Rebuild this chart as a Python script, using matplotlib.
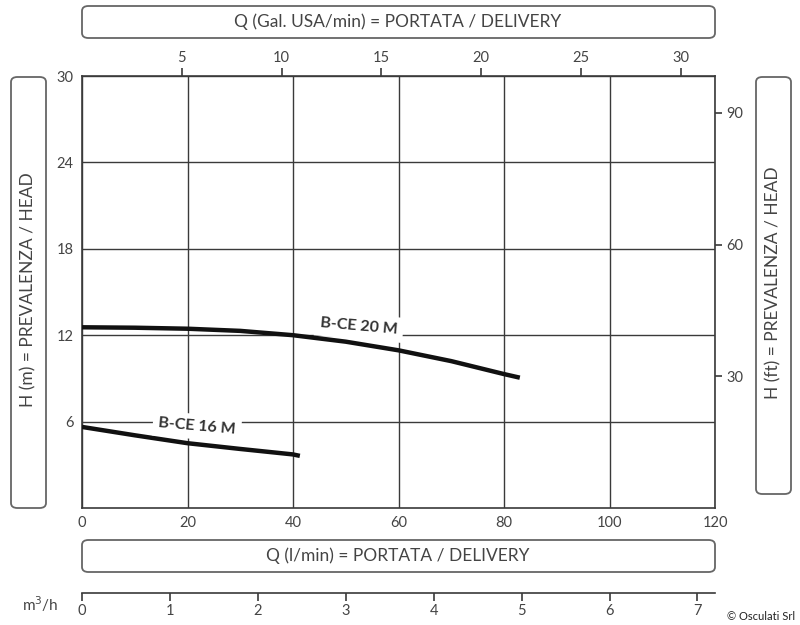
import matplotlib.pyplot as plt
from matplotlib.patches import FancyBboxPatch

plt.rcParams['font.family'] = ['Lato', 'DejaVu Sans']

# pump curves, Q in l/min, H in m
q_20m = [0, 10, 20, 30, 40, 50, 60, 70, 80, 83]
h_20m = [12.55, 12.52, 12.45, 12.3, 12.0, 11.55, 10.95, 10.2, 9.3, 9.05]
q_16m = [0, 10, 20, 30, 40, 41.3]
h_16m = [5.63, 5.05, 4.5, 4.1, 3.72, 3.62]

x_ticks = [0, 20, 40, 60, 80, 100, 120]
y_ticks = [6, 12, 18, 24, 30]
gal_ticks = [5, 10, 15, 20, 25, 30]
ft_ticks = [30, 60, 90]
m3h_ticks = [0, 1, 2, 3, 4, 5, 6, 7]

LPM_PER_GAL = 3.785
FT_PER_M = 3.2808
LPM_PER_M3H = 1000 / 60

W, H = 800, 625
fig = plt.figure(figsize=(8, 6.25), dpi=100)
ink = '#3a3a3a'
txt = '#444444'


def fx(px):
    return px / W


def fy(py):
    return 1 - py / H


ax = fig.add_axes([fx(82), fy(508), fx(715) - fx(82), fy(76) - fy(508)])
ax.set_xlim(0, 120)
ax.set_ylim(0, 30)
ax.set_xticks(x_ticks)
ax.set_yticks(y_ticks)
ax.grid(True, color=ink, lw=1.0)
ax.set_axisbelow(True)
for s in ax.spines.values():
    s.set_color(ink)
    s.set_linewidth(1.2)
ax.tick_params(axis='both', length=0, labelsize=10.5, colors=txt, pad=6)

ax.plot(q_20m, h_20m, color='#111111', lw=3.2, solid_capstyle='butt', zorder=3)
ax.plot(q_16m, h_16m, color='#111111', lw=3.2, solid_capstyle='butt', zorder=3)

lab_box = dict(boxstyle='square,pad=0.35', fc='white', ec='none')
ax.text(52.5, 12.6, 'B-CE 20 M', rotation=-5, ha='center', va='center',
        fontsize=11.5, fontweight='bold', color='#333333', bbox=lab_box, zorder=4)
ax.text(21.8, 5.65, 'B-CE 16 M', rotation=-5, ha='center', va='center',
        fontsize=11.5, fontweight='bold', color='#333333', bbox=lab_box, zorder=4)

top = ax.secondary_xaxis('top', functions=(lambda q: q / LPM_PER_GAL,
                                            lambda g: g * LPM_PER_GAL))
top.set_xticks(gal_ticks)
top.tick_params(direction='out', length=6, width=1.2, colors=ink,
                labelcolor=txt, labelsize=10.5, pad=2)
top.spines['top'].set_visible(False)

right = ax.secondary_yaxis('right', functions=(lambda m: m * FT_PER_M,
                                               lambda f: f / FT_PER_M))
right.set_yticks(ft_ticks)
right.tick_params(direction='out', length=5, width=1.2, colors=ink,
                  labelcolor=txt, labelsize=10.5, pad=3)
right.spines['right'].set_visible(False)

# m3/h scale under the chart
ax3 = fig.add_axes([fx(82), fy(593), fx(715) - fx(82), 0.0001])
ax3.set_xlim(0, 120 / LPM_PER_M3H)
ax3.set_xticks(m3h_ticks)
ax3.set_yticks([])
for k in ['top', 'left', 'right']:
    ax3.spines[k].set_visible(False)
ax3.spines['bottom'].set_color(ink)
ax3.spines['bottom'].set_linewidth(1.2)
ax3.tick_params(axis='x', direction='out', length=6, width=1.2, colors=ink,
                labelcolor=txt, labelsize=10.5, pad=2)
ax3.patch.set_visible(False)


def box(x0, y0, x1, y1):
    p = FancyBboxPatch((fx(x0), fy(y1)), fx(x1) - fx(x0), fy(y0) - fy(y1),
                       boxstyle='round,pad=0,rounding_size=0.008',
                       transform=fig.transFigure, fc='white', ec='#666666',
                       lw=1.3)
    fig.patches.append(p)


box(82, 6, 715, 38)
fig.text(fx(398), fy(22), 'Q (Gal. USA/min) = PORTATA / DELIVERY',
         ha='center', va='center', fontsize=12.5, color=txt)
box(82, 540, 715, 572)
fig.text(fx(398), fy(556), 'Q (l/min) = PORTATA / DELIVERY',
         ha='center', va='center', fontsize=12.5, color=txt)
box(11, 77, 46, 508)
fig.text(fx(28.5), fy(290), 'H (m) = PREVALENZA / HEAD', rotation=90,
         ha='center', va='center', fontsize=12.5, color=txt)
box(756, 77, 791, 494)
fig.text(fx(773.5), fy(283), 'H (ft) = PREVALENZA / HEAD', rotation=90,
         ha='center', va='center', fontsize=12.5, color=txt)

fig.text(fx(40), fy(604), 'm$^3$/h', ha='center', va='center',
         fontsize=11, color=txt)
fig.text(fx(795), fy(617), '© Osculati Srl', ha='right', va='center',
         fontsize=8, color='#222222')

fig.savefig('out.png', dpi=100)
